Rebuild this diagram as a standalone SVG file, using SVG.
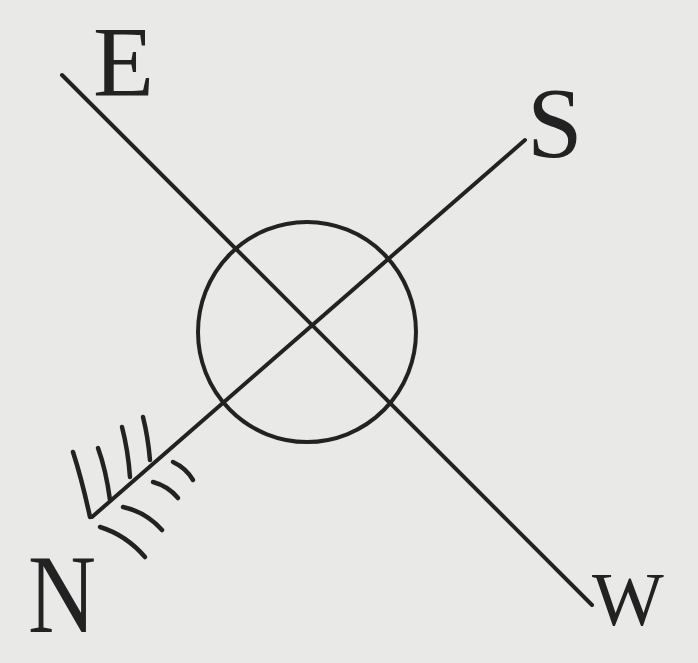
<svg xmlns="http://www.w3.org/2000/svg" width="698" height="663" viewBox="0 0 698 663">
<style>
.ln{stroke:#222;stroke-width:4;fill:none;stroke-linecap:round}
.fe{stroke:#222;stroke-width:4.5;fill:none;stroke-linecap:round}
.lb{font-family:"Liberation Serif",serif;fill:#222;font-weight:normal}
</style>
<rect width="698" height="663" fill="#e9e9e7"/>
<g id="connectors">
<line class="ln" x1="62" y1="75" x2="592" y2="605"/>
<line class="ln" x1="525" y1="140" x2="92" y2="517"/>
</g>
<g id="circle">
<ellipse class="ln" cx="307" cy="332" rx="109" ry="110"/>
</g>
<g id="fletching">
<path class="fe" d="M90,517 Q82,480 73,452"/>
<path class="fe" d="M110,500 Q106,470 98,448"/>
<path class="fe" d="M130,477 Q128,450 122,427"/>
<path class="fe" d="M150,460 Q148,437 143,417"/>
<path class="fe" d="M100,527 Q126,535 145,557"/>
<path class="fe" d="M123,507 Q146,512 162,530"/>
<path class="fe" d="M153,482 Q168,486 178,498"/>
<path class="fe" d="M173,462 Q186,468 193,480"/>
</g>
<g id="label-E"><text class="lb" x="93" y="95" font-size="100">E</text></g>
<g id="label-S"><text class="lb" x="527" y="156" font-size="100">S</text></g>
<g id="label-W"><text class="lb" x="592" y="625" font-size="76">W</text></g>
<g id="label-N"><text class="lb" x="28" y="632" font-size="112" textLength="68" lengthAdjust="spacingAndGlyphs">N</text></g>
</svg>
